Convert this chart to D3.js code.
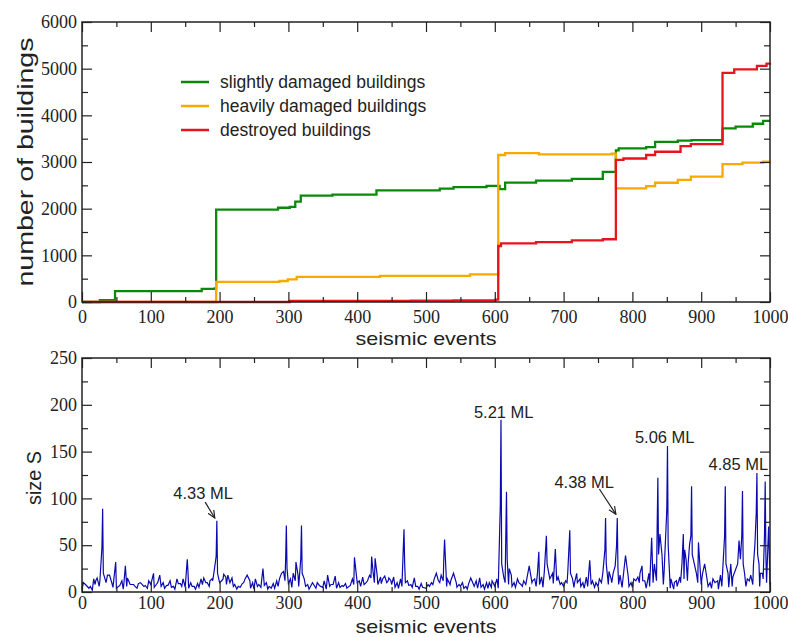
<!DOCTYPE html>
<html>
<head>
<meta charset="utf-8">
<script src="https://cdn.jsdelivr.net/npm/d3@7"></script>
<style>
  body { margin: 0; background: #fff; }
  .sans { font-family: "Liberation Sans", Arial, sans-serif; fill: #222; }
  svg .tick text { font-family: "Liberation Serif", "Times New Roman", serif !important; font-size: 18px; fill: #222; }
</style>
</head>
<body>
<div id="chart"></div>
<script>
// ---- top panel: cumulative damaged buildings (step series) ----
var greenEvents  = [0, 26, 48, 174, 193, 195, 285, 302, 310, 318, 364, 428, 520, 540, 588, 607, 615, 660, 712, 757, 776, 780, 820, 833, 866, 886, 931, 950, 975, 990, 1000];
var greenValues  = [0, 40, 235, 280, 290, 1980, 2020, 2040, 2150, 2280, 2300, 2390, 2430, 2460, 2490, 2420, 2560, 2600, 2640, 2790, 3250, 3290, 3320, 3430, 3460, 3470, 3720, 3760, 3820, 3880, 3880];

var orangeEvents = [0, 195, 287, 299, 312, 433, 564, 605, 615, 664, 770, 776, 820, 833, 866, 885, 931, 960, 990, 1000];
var orangeValues = [0, 430, 450, 485, 540, 560, 593, 3150, 3190, 3165, 3180, 2435, 2485, 2555, 2615, 2685, 2955, 2985, 3005, 3010];

var redEvents    = [0, 302, 478, 540, 601, 605, 609, 660, 712, 757, 776, 787, 820, 833, 870, 885, 931, 948, 981, 995, 1000];
var redValues    = [0, 25, 30, 35, 50, 1200, 1255, 1285, 1320, 1345, 3045, 3075, 3150, 3220, 3340, 3385, 4910, 4985, 5060, 5110, 5120];

var seriesNames  = ["slightly damaged buildings", "heavily damaged buildings", "destroyed buildings"];
var seriesColors = ["#088a08", "#f8a900", "#e8141c"];

var topXTicks = [0, 100, 200, 300, 400, 500, 600, 700, 800, 900, 1000];
var topYTicks = [0, 1000, 2000, 3000, 4000, 5000, 6000];

// ---- bottom panel: event size S ----
// background level, one value every 5 events (0..1000)
var baseSize = [
  3,8,4,2,12,6,9,4,10,5,4,7,3,6,5,8,4,3,6,4,
  8,5,10,6,4,7,5,3,9,6,5,4,6,3,5,8,10,6,12,9,
  10,14,8,4,6,3,5,10,12,4,3,6,5,7,3,4,4,6,10,12,
  9,5,12,6,4,6,3,5,4,7,5,3,6,8,4,5,6,4,7,8,
  10,6,8,12,15,10,8,9,6,12,8,5,4,6,10,7,5,6,3,5,
  4,6,8,5,10,12,6,8,4,5,6,4,3,5,6,4,5,3,4,5,
  6,4,12,10,8,6,5,10,6,8,4,12,6,8,5,10,6,9,12,8,
  6,10,8,5,10,6,4,6,8,5,6,10,12,8,10,6,8,5,4,6,
  5,8,10,12,4,6,10,12,14,8,5,4,3,6,10,14,12,10,15,10,
  8,12,6,4,5,3,6,10,5,6,8,10,8,6,12,8,10,6,14,10,
  8
];
// large spikes
var spikeEvents = [22,26,29,30,31,40,49,58,63,66,85,104,113,138,153,154,177,186,195,196,197,206,212,218,240,244,263,283,290,296,297,298,311,318,319,320,335,357,368,396,421,426,434,440,446,468,469,483,515,526,527,540,565,578,592,608,609,610,616,617,618,621,642,650,664,675,676,688,709,710,719,738,760,761,762,772,777,778,779,790,805,814,828,836,837,838,840,850,851,852,861,874,878,885,886,887,890,896,905,920,934,935,936,943,955,959,960,961,980,981,982,986,992,993,994,999];
var spikeSizes  = [15,12,48,89,20,18,32,12,28,15,10,20,18,14,35,22,15,12,38,76,20,19,18,15,18,12,25,12,20,35,71,25,32,36,71,20,10,18,17,37,38,36,16,17,15,67,30,15,20,38,56,20,15,15,10,93,184,30,60,107,35,25,12,28,43,60,30,46,66,20,20,34,45,79,30,20,50,79,25,39,12,28,58,70,122,40,62,88,156,50,10,62,35,60,113,40,30,53,30,10,60,113,30,30,55,60,108,30,85,127,40,20,60,118,40,40];
// small spikes in the noise band
var minorEvents = [2,12,17,19,35,37,44,53,61,70,77,82,92,97,108,118,123,128,133,143,147,158,163,168,173,182,189,192,203,209,215,222,227,233,237,248,252,257,268,272,278,287,293,303,307,314,323,328,342,347,352,362,373,378,383,388,393,403,408,413,418,423,429,437,443,449,453,458,463,473,478,488,493,503,508,512,518,522,531,536,544,548,553,558,562,569,573,583,588,596,603,613,624,628,633,638,646,654,658,662,668,672,680,684,692,697,703,706,713,716,724,728,733,742,747,752,757,766,769,775,782,786,794,798,802,808,811,818,824,832,843,846,856,864,869,872,876,881,883,893,898,902,908,913,917,924,928,939,946,950,953,957,963,967,972,976,978,984,989,996,998];
var minorSizes  = [10,6,14,8,10,18,8,6,10,8,6,9,7,12,8,10,7,12,6,9,14,10,6,9,14,10,14,22,12,16,10,8,6,9,14,10,14,8,10,6,9,14,22,14,20,18,14,8,10,6,12,8,10,7,9,6,14,12,16,10,18,22,18,14,10,12,16,10,14,12,8,6,9,8,10,14,12,18,14,12,10,8,10,6,9,8,12,8,10,12,14,16,18,10,14,8,12,10,14,20,16,22,14,20,16,10,12,20,14,10,14,10,16,12,10,14,20,22,14,28,18,12,16,10,14,16,20,12,20,30,40,20,14,12,16,30,45,30,50,20,30,20,16,10,14,12,18,20,16,24,30,35,20,14,18,30,50,30,20,30,70];

var botXTicks = [0, 100, 200, 300, 400, 500, 600, 700, 800, 900, 1000];
var botYTicks = [0, 50, 100, 150, 200, 250];

// annotations: label, text anchor (event, size), arrow from / to (event, size)
var annoLabels = ["4.33 ML", "5.21 ML", "5.06 ML", "4.38 ML", "4.85 ML"];
var annoEvent  = [176, 613, 847, 730, 954];
var annoSize   = [99, 186, 159, 111, 130];
var arrowFrom  = [[179, 96], null, null, [752, 110], null];
var arrowTo    = [[193, 79], null, null, [776, 83], null];

var W = 788, H = 637;
var svg = d3.select("#chart").append("svg")
    .attr("width", W)
    .attr("height", H);

svg.append("defs").append("marker")
    .attr("id", "arrow")
    .attr("viewBox", "0 0 10 10")
    .attr("refX", 9).attr("refY", 5)
    .attr("markerWidth", 7).attr("markerHeight", 7)
    .attr("orient", "auto")
  .append("path")
    .attr("d", "M0,1 L9,5 L0,9")
    .attr("fill", "none")
    .attr("stroke", "#222")
    .attr("stroke-width", 1.4);

function frame(x, y, minorY, minorX, labelsX, labelsY, padX) {
  var g = svg.append("g");
  var x0 = x.range()[0], x1 = x.range()[1], y0 = y.range()[0], y1 = y.range()[1];

  function add(axis, tr, labels) {
    var a = g.append("g").attr("transform", tr).call(axis);
    a.attr("font-family", null).attr("font-size", null);
    a.select(".domain").remove();
    a.selectAll("line").attr("stroke", "#222").attr("stroke-width", 1.2);
    if (!labels) a.selectAll("text").remove();
    return a;
  }
  // major ticks, inward on four sides
  add(d3.axisBottom(x).tickValues(labelsX).tickSize(-10).tickPadding(padX).tickFormat(d3.format("d")), "translate(0," + y0 + ")", true);
  add(d3.axisTop(x).tickValues(labelsX).tickSize(-10), "translate(0," + y1 + ")", false);
  add(d3.axisLeft(y).tickValues(labelsY).tickSize(-10).tickPadding(5).tickFormat(d3.format("d")), "translate(" + x0 + ",0)", true);
  add(d3.axisRight(y).tickValues(labelsY).tickSize(-10), "translate(" + x1 + ",0)", false);
  // minor ticks
  add(d3.axisBottom(x).tickValues(minorX).tickSize(-5), "translate(0," + y0 + ")", false);
  add(d3.axisTop(x).tickValues(minorX).tickSize(-5), "translate(0," + y1 + ")", false);
  add(d3.axisLeft(y).tickValues(minorY).tickSize(-6), "translate(" + x0 + ",0)", false);
  add(d3.axisRight(y).tickValues(minorY).tickSize(-6), "translate(" + x1 + ",0)", false);

  g.append("rect")
    .attr("x", x0).attr("y", y1)
    .attr("width", x1 - x0).attr("height", y0 - y1)
    .attr("fill", "none").attr("stroke", "#222").attr("stroke-width", 1.5);
  return g;
}

// ================= top panel =================
var xTop = d3.scaleLinear().domain([0, 1000]).range([82, 770]);
var yTop = d3.scaleLinear().domain([0, 6000]).range([302, 22]);

var stepLine = d3.line()
    .x(function(d) { return xTop(d[0]); })
    .y(function(d) { return yTop(d[1]); })
    .curve(d3.curveStepAfter);

var series = [
  d3.zip(greenEvents, greenValues),
  d3.zip(orangeEvents, orangeValues),
  d3.zip(redEvents, redValues)
];

svg.append("g").selectAll("path")
  .data(series)
  .enter()
  .append("path")
    .attr("d", stepLine)
    .attr("fill", "none")
    .attr("stroke", function(d, i) { return seriesColors[i]; })
    .attr("stroke-width", 2.3);

frame(xTop, yTop,
      [500, 1500, 2500, 3500, 4500, 5500],
      [50, 150, 250, 350, 450, 550, 650, 750, 850, 950],
      topXTicks, topYTicks, 8);

// legend
var leg = svg.append("g").selectAll("g")
  .data(seriesNames)
  .enter()
  .append("g")
    .attr("transform", function(d, i) { return "translate(181," + (82 + i * 24) + ")"; });
leg.append("line")
    .attr("x1", 0).attr("x2", 28)
    .attr("stroke", function(d, i) { return seriesColors[i]; })
    .attr("stroke-width", 2.5);
leg.append("text")
    .attr("class", "sans")
    .attr("x", 39).attr("y", 6)
    .style("font-size", "17.5px")
    .text(function(d) { return d; });

svg.append("text")
    .attr("class", "sans")
    .attr("x", 426).attr("y", 345)
    .attr("text-anchor", "middle")
    .attr("textLength", 141).attr("lengthAdjust", "spacingAndGlyphs")
    .style("font-size", "19px")
    .text("seismic events");

svg.append("text")
    .attr("class", "sans")
    .attr("transform", "translate(33,162) rotate(-90)")
    .attr("text-anchor", "middle")
    .attr("textLength", 249).attr("lengthAdjust", "spacingAndGlyphs")
    .style("font-size", "22px")
    .text("number of buildings");

// ================= bottom panel =================
var xBot = d3.scaleLinear().domain([0, 1000]).range([82, 770]);
var yBot = d3.scaleLinear().domain([0, 250]).range([592, 358]);

var taken = new Set(spikeEvents.concat(minorEvents));
var sizePoints = baseSize
  .map(function(v, i) { return [i * 5, v]; })
  .filter(function(d) { return !taken.has(d[0]); })
  .concat(d3.zip(spikeEvents, spikeSizes))
  .concat(d3.zip(minorEvents, minorSizes))
  .sort(function(a, b) { return a[0] - b[0]; });

var sizeLine = d3.line()
    .x(function(d) { return xBot(d[0]); })
    .y(function(d) { return yBot(d[1]); });

svg.append("path")
    .datum(sizePoints)
    .attr("d", sizeLine)
    .attr("fill", "none")
    .attr("stroke", "#0a0ab0")
    .attr("stroke-width", 1.2);

frame(xBot, yBot,
      [25, 75, 125, 175, 225],
      [50, 150, 250, 350, 450, 550, 650, 750, 850, 950],
      botXTicks, botYTicks, 4);

// annotations
annoLabels.forEach(function(lbl, i) {
  svg.append("text")
      .attr("class", "sans")
      .attr("x", xBot(annoEvent[i]))
      .attr("y", yBot(annoSize[i]))
      .attr("text-anchor", "middle")
      .style("font-size", "16.5px")
      .text(lbl);
  if (arrowFrom[i]) {
    svg.append("line")
        .attr("x1", xBot(arrowFrom[i][0])).attr("y1", yBot(arrowFrom[i][1]))
        .attr("x2", xBot(arrowTo[i][0])).attr("y2", yBot(arrowTo[i][1]))
        .attr("stroke", "#222").attr("stroke-width", 1.2)
        .attr("marker-end", "url(#arrow)");
  }
});

svg.append("text")
    .attr("class", "sans")
    .attr("x", 426).attr("y", 633)
    .attr("text-anchor", "middle")
    .attr("textLength", 141).attr("lengthAdjust", "spacingAndGlyphs")
    .style("font-size", "19px")
    .text("seismic events");

svg.append("text")
    .attr("class", "sans")
    .attr("transform", "translate(41,478) rotate(-90)")
    .attr("text-anchor", "middle")
    .attr("textLength", 54).attr("lengthAdjust", "spacingAndGlyphs")
    .style("font-size", "20px")
    .text("size S");
</script>
</body>
</html>
